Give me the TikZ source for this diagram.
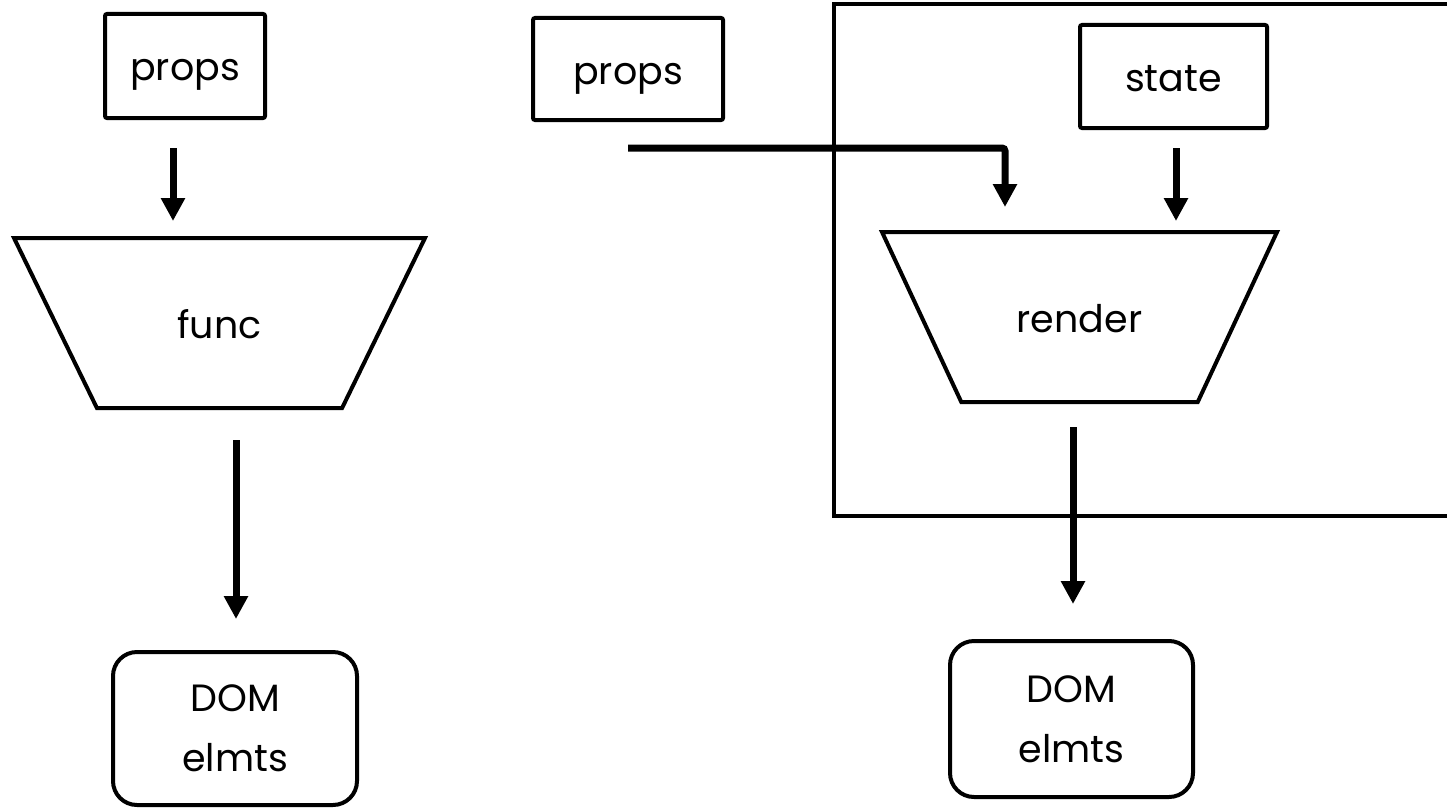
\documentclass[tikz,border=0pt]{standalone}
\usepackage{fontspec}
\setmainfont{Poppins}
\usetikzlibrary{shapes.geometric,arrows.meta}

\begin{document}
\begin{tikzpicture}[x=1pt,y=-1pt,
  every node/.style={font=\fontsize{38}{60}\selectfont},
  box/.style={draw,line width=4pt,rounded corners=2pt,inner sep=0pt,text height=30pt,text depth=0pt},
  fn/.style={draw,line width=4pt,trapezium,shape border rotate=180,trapezium stretches body,inner xsep=0pt,inner ysep=70pt,text height=30pt,text depth=0pt},
  dombox/.style={draw,line width=4pt,rounded corners=24pt,align=center,inner sep=0pt},
  arr/.style={line width=7pt,-{Triangle[width=23pt,length=23pt]}}]
\useasboundingbox (0,0) rectangle (1447,808);
% function component
\node [box,minimum width=160pt,minimum height=104pt] (props1) at (185,66) {props};
\node [fn,trapezium angle=64,minimum width=411pt] (func) at (219.5,323) {func};
\node [dombox,minimum width=244pt,minimum height=153pt] (dom1) at (235,728.5) {DOM\\elmts};
\coordinate (p1s) at (173,148);
\coordinate (p1e) at (173,221);
\coordinate (f1s) at (236,440);
\coordinate (f1e) at (236,619);
\draw [arr] (p1s) -- (p1e);
\draw [arr] (f1s) -- (f1e);
% class component
\node [draw,line width=4pt,inner sep=0pt,minimum width=640pt,minimum height=512pt,anchor=north west] (comp) at (832,2) {};
\node [box,minimum width=190pt,minimum height=102pt] (props2) at (628,69) {props};
\node [box,minimum width=187pt,minimum height=103pt] (state) at (1173.5,76.5) {state};
\node [fn,trapezium angle=65,minimum width=395pt] (render) at (1079.5,317) {render};
\node [dombox,minimum width=243pt,minimum height=156pt] (dom2) at (1071.5,719) {DOM\\elmts};
\coordinate (p2s) at (628,148);
\coordinate (p2e) at (1005,207);
\coordinate (s2s) at (1176,148);
\coordinate (s2e) at (1176,221);
\coordinate (r2s) at (1073,427);
\coordinate (r2e) at (1073,604);
\draw [arr,rounded corners=3pt] (p2s) -| (p2e);
\draw [arr] (s2s) -- (s2e);
\draw [arr] (r2s) -- (r2e);
\end{tikzpicture}
\end{document}
